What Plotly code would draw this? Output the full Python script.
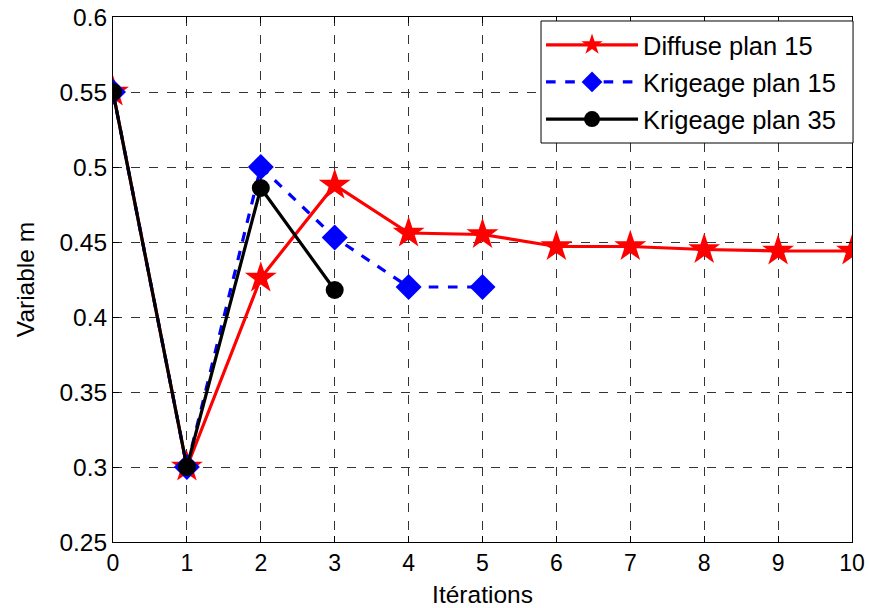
import plotly.graph_objects as go

iterations_diffuse = [0, 1, 2, 3, 4, 5, 6, 7, 8, 9, 10]
diffuse_plan_15 = [0.55, 0.30, 0.426, 0.488, 0.456, 0.455, 0.447, 0.447, 0.445, 0.444, 0.444]

iterations_krig15 = [0, 1, 2, 3, 4, 5]
krigeage_plan_15 = [0.55, 0.30, 0.50, 0.453, 0.42, 0.42]

iterations_krig35 = [0, 1, 2, 3]
krigeage_plan_35 = [0.55, 0.30, 0.486, 0.418]

x_ticks = list(range(0, 11))
y_ticks = [0.25, 0.3, 0.35, 0.4, 0.45, 0.5, 0.55, 0.6]
y_tick_labels = ["0.25", "0.3", "0.35", "0.4", "0.45", "0.5", "0.55", "0.6"]

font_family = "Liberation Sans, Arial, sans-serif"

fig = go.Figure()
fig.add_trace(go.Scatter(
    x=iterations_diffuse, y=diffuse_plan_15, mode="lines+markers",
    name="Diffuse plan 15", legendgroup="g1",
    line=dict(color="#ff0000", width=3.2),
    marker=dict(symbol="star", size=24, color="#ff0000"),
))
fig.add_trace(go.Scatter(
    x=iterations_krig15, y=krigeage_plan_15, mode="lines+markers",
    name="Krigeage plan 15", legendgroup="g2",
    line=dict(color="#0000ff", width=3.2, dash="dash"),
    marker=dict(symbol="diamond", size=20, color="#0000ff"),
))
fig.add_trace(go.Scatter(
    x=iterations_krig35, y=krigeage_plan_35, mode="lines+markers",
    name="Krigeage plan 35", legendgroup="g3",
    line=dict(color="#000000", width=3.2),
    marker=dict(symbol="circle", size=18, color="#000000"),
))

axis_common = dict(
    showline=True, linecolor="black", linewidth=1, mirror="allticks",
    ticks="inside", ticklen=6, tickcolor="black",
    showgrid=True, gridcolor="#333333", gridwidth=1, griddash="dash",
    zeroline=False, automargin=False,
)

fig.update_xaxes(
    range=[0, 10], tickmode="array", tickvals=x_ticks,
    tickfont=dict(family=font_family, size=23, color="black"),
    title=dict(text="Itérations", font=dict(family=font_family, size=24.5, color="black"), standoff=12),
    **axis_common,
)
fig.update_yaxes(
    range=[0.25, 0.6], tickmode="array", tickvals=y_ticks, ticktext=y_tick_labels,
    tickfont=dict(family=font_family, size=24.5, color="black"),
    title=dict(text="Variable m", font=dict(family=font_family, size=24.5, color="black"), standoff=17),
    **axis_common,
)

# legend frame (MATLAB-style box, wider than the entries)
fig.add_shape(
    type="rect", xref="paper", yref="paper",
    x0=0.5792, x1=1.0014, y0=0.760, y1=0.9924,
    line=dict(color="black", width=1), fillcolor="white", layer="above",
)

fig.update_layout(
    width=869, height=608,
    margin=dict(l=113, r=17, t=17, b=66),
    paper_bgcolor="white", plot_bgcolor="white",
    font=dict(family=font_family, size=24, color="black"),
    legend=dict(
        x=0.5792, y=0.991, xanchor="left", yanchor="top",
        bgcolor="rgba(0,0,0,0)", borderwidth=0,
        font=dict(family=font_family, size=25.5, color="black"),
        itemwidth=92, tracegroupgap=1,
    ),
    showlegend=True,
)

fig.write_html(
    "out.html",
    config={"displayModeBar": False},
    post_script="document.body.style.margin='0px';",
)
